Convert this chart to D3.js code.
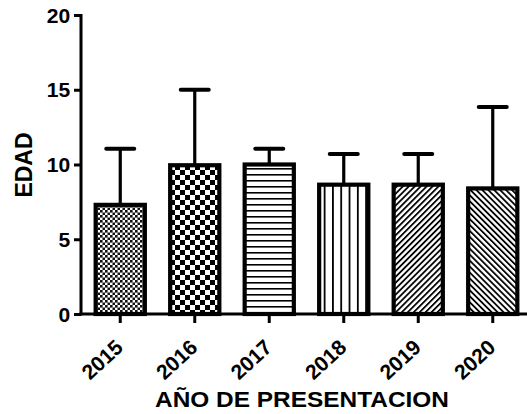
<!DOCTYPE html>
<html><head><meta charset="utf-8">
<script src="https://cdn.jsdelivr.net/npm/d3@7"></script>
<style>
html,body{margin:0;padding:0;background:#fff;}
svg text{font-family:"Liberation Sans",Arial,sans-serif;font-weight:bold;fill:#000;}
</style></head>
<body>
<svg id="chart" width="527" height="414"></svg>
<script>
const categories = ["2015","2016","2017","2018","2019","2020"];
const means = [7.3, 9.95, 10.0, 8.65, 8.65, 8.4];
const errors = [3.75, 5.05, 1.05, 2.05, 2.05, 5.45];
const patterns = ["dots","checker","hlines","vlines","diagUp","diagDown"];
const yTicks = [0,5,10,15,20];
const yTitle = "EDAD";
const xTitle = "AÑO DE PRESENTACION";

const svg = d3.select("#chart");
const axisX0 = 81, plotBottom = 314, plotTop = 15;

const x = d3.scaleBand().domain(categories).range([83, 530]).paddingInner(0.34).paddingOuter(0.17);
const y = d3.scaleLinear().domain([0, 20]).range([plotBottom, plotTop]);

// patterns
const defs = svg.append("defs");
function pat(id, w, h, draw, rot) {
  const p = defs.append("pattern").attr("id", id).attr("patternUnits","userSpaceOnUse")
    .attr("width", w).attr("height", h);
  if (rot) p.attr("patternTransform", "rotate(" + rot + ")");
  p.append("rect").attr("width", w).attr("height", h).attr("fill", "#fff");
  draw(p);
}
pat("dots", 5, 5, p => {
  p.append("rect").attr("x",0).attr("y",0).attr("width",2.6).attr("height",2.6).attr("fill","#111");
  p.append("rect").attr("x",2.5).attr("y",2.5).attr("width",2.6).attr("height",2.6).attr("fill","#111");
});
pat("checker", 10, 10, p => {
  p.append("rect").attr("x",0).attr("y",0).attr("width",5).attr("height",5).attr("fill","#000");
  p.append("rect").attr("x",5).attr("y",5).attr("width",5).attr("height",5).attr("fill","#000");
});
pat("hlines", 10, 6, p => {
  p.append("rect").attr("x",0).attr("y",0).attr("width",10).attr("height",1.6).attr("fill","#000");
});
pat("vlines", 8.3, 10, p => {
  p.append("rect").attr("x",0).attr("y",0).attr("width",1.8).attr("height",10).attr("fill","#000");
});
pat("diagUp", 4.2, 10, p => {
  p.append("rect").attr("x",0).attr("y",0).attr("width",1.8).attr("height",10).attr("fill","#000");
}, 45);
pat("diagDown", 4.2, 10, p => {
  p.append("rect").attr("x",0).attr("y",0).attr("width",1.8).attr("height",10).attr("fill","#000");
}, -45);

// error bars
const eg = svg.append("g");
categories.forEach((c, i) => {
  const cx = x(c) + x.bandwidth() / 2;
  eg.append("line").attr("x1", cx).attr("x2", cx)
    .attr("y1", y(means[i])).attr("y2", y(means[i] + errors[i]))
    .attr("stroke", "#000").attr("stroke-width", 3.2);
  eg.append("line").attr("x1", cx - 14).attr("x2", cx + 14)
    .attr("y1", y(means[i] + errors[i])).attr("y2", y(means[i] + errors[i]))
    .attr("stroke", "#000").attr("stroke-width", 4).attr("stroke-linecap","round");
});

// bars
svg.append("g").selectAll("rect").data(categories).join("rect")
  .attr("x", d => x(d)).attr("width", x.bandwidth())
  .attr("y", (d, i) => y(means[i])).attr("height", (d, i) => y(0) - y(means[i]))
  .attr("fill", (d, i) => "url(#" + patterns[i] + ")")
  .attr("stroke", "#000").attr("stroke-width", 4.2);

// y axis
const yAxis = d3.axisLeft(y).tickValues(yTicks).tickSize(7).tickSizeOuter(0).tickPadding(3);
const gy = svg.append("g").attr("transform", "translate(" + axisX0 + ",0)").call(yAxis);
gy.select(".domain").attr("stroke-width", 3).attr("d", "M0," + (plotTop - 1) + "V" + (plotBottom + 1.5));
gy.selectAll(".tick line").attr("stroke-width", 3);
gy.selectAll(".tick text").attr("font-size", 19.5).attr("dy", "0.36em")
  .attr("transform", "scale(1.08,1)");

// x axis
const xAxis = d3.axisBottom(x).tickSize(9).tickSizeOuter(0).tickPadding(2);
const gx = svg.append("g").attr("transform", "translate(0," + plotBottom + ")").call(xAxis);
gx.select(".domain").attr("stroke-width", 3).attr("d", "M" + (axisX0 - 1.5) + ",0H527");
gx.selectAll(".tick line").attr("stroke-width", 3);
gx.selectAll(".tick text").attr("font-size", 21)
  .attr("text-anchor", "end").attr("y", 0).attr("dy", "0")
  .attr("transform", "translate(4,35) rotate(-43)");

// titles
svg.append("text").attr("transform", "translate(32,165) rotate(-90)")
  .attr("text-anchor", "middle").attr("font-size", 23).text(yTitle);
svg.append("text").attr("x", 302).attr("y", 407).attr("text-anchor", "middle")
  .attr("font-size", 22.5).attr("textLength", 294).attr("lengthAdjust", "spacingAndGlyphs").text(xTitle);
</script>
</body></html>
